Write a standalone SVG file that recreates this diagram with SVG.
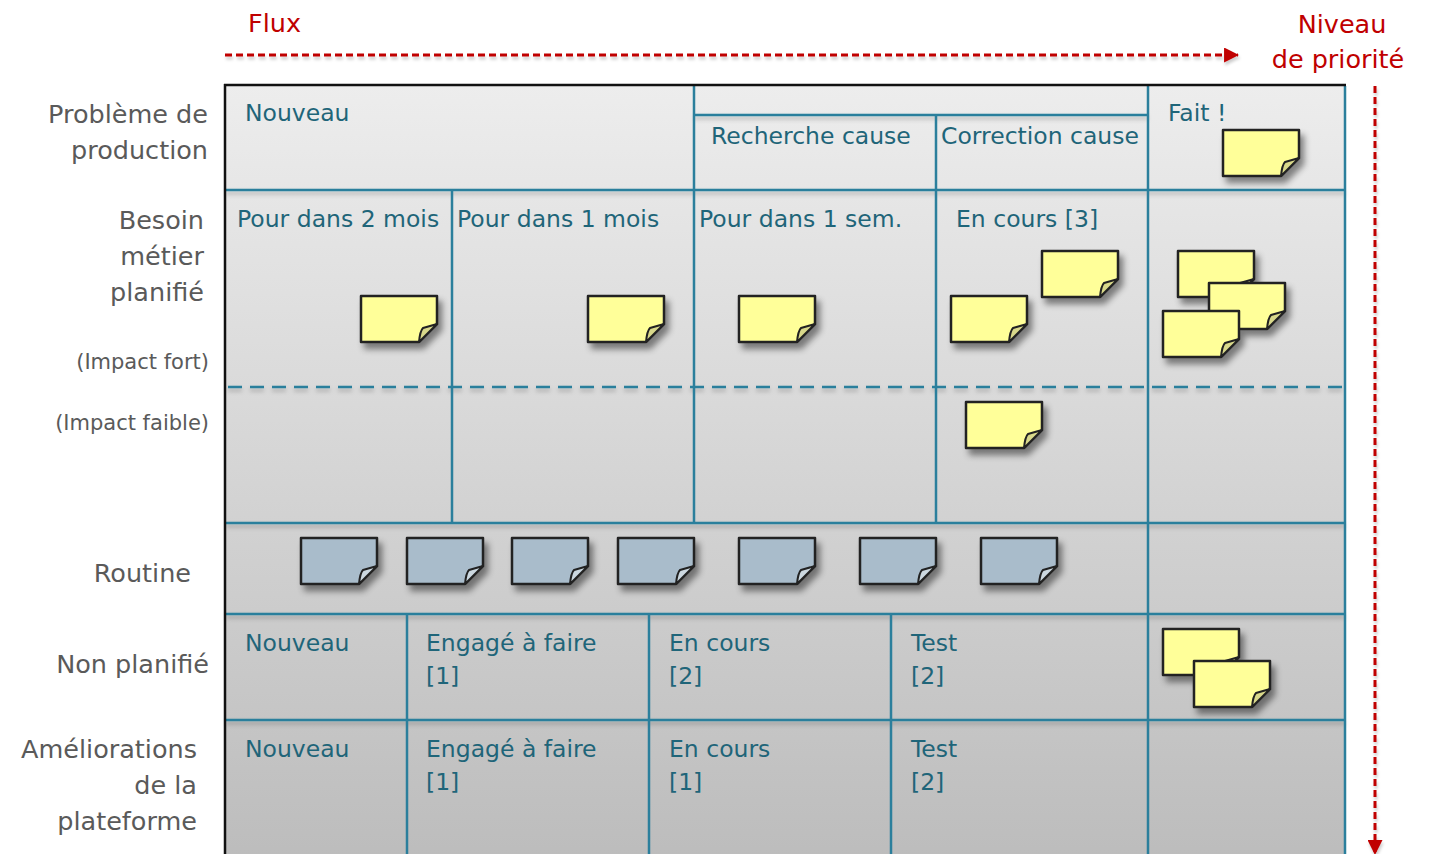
<svg xmlns="http://www.w3.org/2000/svg" width="1430" height="854" viewBox="0 0 1430 854">
<defs>
<style>
.lbl{font-family:"DejaVu Sans",Verdana,sans-serif;font-size:25.5px;fill:#5a5a5a;text-anchor:end}
.sm{font-size:21px}
.col{font-family:"DejaVu Sans",Verdana,sans-serif;font-size:23.5px;fill:#1f6579}
.red{font-family:"DejaVu Sans",Verdana,sans-serif;font-size:25.5px;fill:#c00000}
.ln{stroke:#2b7f9c;stroke-width:2.5;fill:none}
.dash{stroke:#2b7f9c;stroke-width:2.5;fill:none;stroke-dasharray:14 8}
.arr{stroke:#c00000;stroke-width:3;fill:none;stroke-dasharray:7 4}
</style>
<linearGradient id="bg" x1="0" y1="0" x2="0" y2="1">
<stop offset="0" stop-color="#ededed"/>
<stop offset="1" stop-color="#bcbcbc"/>
</linearGradient>
<filter id="sh" x="-20%" y="-20%" width="150%" height="160%">
<feDropShadow dx="4" dy="6" stdDeviation="3" flood-color="#000" flood-opacity="0.45"/>
</filter>
<filter id="lsh" x="-5%" y="-50%" width="110%" height="300%">
<feDropShadow dx="0" dy="3" stdDeviation="2" flood-color="#000" flood-opacity="0.25"/>
</filter>
<filter id="ash" x="-5%" y="-5%" width="110%" height="110%">
<feDropShadow dx="1" dy="3" stdDeviation="1.5" flood-color="#000" flood-opacity="0.2"/>
</filter>
<marker id="ah" markerWidth="15" markerHeight="15" refX="13" refY="7" orient="auto" markerUnits="userSpaceOnUse" viewBox="0 0 14 14">
<path d="M0,0 L14,7 L0,14 Z" fill="#c00000"/>
</marker>
<g id="noteY">
<polygon points="0,0 76,0 76,28 58,46 0,46" fill="#ffff99" stroke="#222" stroke-width="2.5" stroke-linejoin="round"/>
<path d="M58,46 Q59,35 62,32 L76,28 Z" fill="#d9d98b" stroke="#222" stroke-width="2" stroke-linejoin="round"/>
</g>
<g id="noteB">
<polygon points="0,0 76,0 76,28 58,46 0,46" fill="#a9bccb" stroke="#222" stroke-width="2.5" stroke-linejoin="round"/>
<path d="M58,46 Q59,35 62,32 L76,28 Z" fill="#ccd8e0" stroke="#222" stroke-width="2" stroke-linejoin="round"/>
</g>
</defs>

<rect width="1430" height="854" fill="#ffffff"/>

<g id="board">
<rect x="225" y="85" width="1120" height="780" fill="url(#bg)"/>
<g id="grid" filter="url(#lsh)">
<line class="ln" x1="226" y1="190" x2="1345" y2="190"/>
<line class="ln" x1="226" y1="523" x2="1345" y2="523"/>
<line class="ln" x1="226" y1="614" x2="1345" y2="614"/>
<line class="ln" x1="226" y1="720" x2="1345" y2="720"/>
<line class="ln" x1="694" y1="115" x2="1148" y2="115"/>
<line class="dash" x1="228" y1="387" x2="1345" y2="387"/>
</g>
<g id="vlines">
<line class="ln" x1="694" y1="86" x2="694" y2="523"/>
<line class="ln" x1="1148" y1="86" x2="1148" y2="854"/>
<line class="ln" x1="936" y1="115" x2="936" y2="523"/>
<line class="ln" x1="452" y1="190" x2="452" y2="523"/>
<line class="ln" x1="407" y1="614" x2="407" y2="854"/>
<line class="ln" x1="649" y1="614" x2="649" y2="854"/>
<line class="ln" x1="891" y1="614" x2="891" y2="854"/>
<line class="ln" x1="1345" y1="86" x2="1345" y2="854"/>
</g>
<line x1="224" y1="85" x2="1346" y2="85" stroke="#111" stroke-width="2.5"/>
<line x1="225" y1="84" x2="225" y2="854" stroke="#111" stroke-width="2.5"/>
</g>

<g id="row-labels">
<text class="lbl" x="208" y="123">Problème de</text>
<text class="lbl" x="208" y="159">production</text>
<text class="lbl" x="204" y="229">Besoin</text>
<text class="lbl" x="204" y="265">métier</text>
<text class="lbl" x="204" y="301">planifié</text>
<text class="lbl sm" x="209" y="369">(Impact fort)</text>
<text class="lbl sm" x="209" y="430">(Impact faible)</text>
<text class="lbl" x="191" y="582">Routine</text>
<text class="lbl" x="209" y="673">Non planifié</text>
<text class="lbl" x="197" y="758">Améliorations</text>
<text class="lbl" x="197" y="794">de la</text>
<text class="lbl" x="197" y="830">plateforme</text>
</g>

<g id="column-labels">
<text class="col" x="245" y="121">Nouveau</text>
<text class="col" x="711" y="144">Recherche cause</text>
<text class="col" x="941" y="144">Correction cause</text>
<text class="col" x="1168" y="121">Fait !</text>
<text class="col" x="237" y="227">Pour dans 2 mois</text>
<text class="col" x="457" y="227">Pour dans 1 mois</text>
<text class="col" x="699" y="227">Pour dans 1 sem.</text>
<text class="col" x="956" y="227">En cours [3]</text>
<text class="col" x="245" y="651">Nouveau</text>
<text class="col" x="426" y="651">Engagé à faire</text>
<text class="col" x="426" y="684">[1]</text>
<text class="col" x="669" y="651">En cours</text>
<text class="col" x="669" y="684">[2]</text>
<text class="col" x="911" y="651">Test</text>
<text class="col" x="911" y="684">[2]</text>
<text class="col" x="245" y="757">Nouveau</text>
<text class="col" x="426" y="757">Engagé à faire</text>
<text class="col" x="426" y="790">[1]</text>
<text class="col" x="669" y="757">En cours</text>
<text class="col" x="669" y="790">[1]</text>
<text class="col" x="911" y="757">Test</text>
<text class="col" x="911" y="790">[2]</text>
</g>

<g id="notes" filter="url(#sh)">
<use href="#noteY" x="1223" y="130"/>
<use href="#noteY" x="361" y="296"/>
<use href="#noteY" x="588" y="296"/>
<use href="#noteY" x="739" y="296"/>
<use href="#noteY" x="951" y="296"/>
<use href="#noteY" x="1042" y="251"/>
<use href="#noteY" x="1178" y="251"/>
<use href="#noteY" x="1209" y="283"/>
<use href="#noteY" x="1163" y="311"/>
<use href="#noteY" x="966" y="402"/>
<use href="#noteY" x="1163" y="629"/>
<use href="#noteY" x="1194" y="661"/>
<use href="#noteB" x="301" y="538"/>
<use href="#noteB" x="407" y="538"/>
<use href="#noteB" x="512" y="538"/>
<use href="#noteB" x="618" y="538"/>
<use href="#noteB" x="739" y="538"/>
<use href="#noteB" x="860" y="538"/>
<use href="#noteB" x="981" y="538"/>
</g>

<g id="axes">
<text class="red" x="248" y="32">Flux</text>
<text class="red" x="1342" y="33" text-anchor="middle">Niveau</text>
<text class="red" x="1338" y="68" text-anchor="middle">de priorité</text>
<g id="connectors" filter="url(#ash)">
<line class="arr" x1="225" y1="55" x2="1238" y2="55" marker-end="url(#ah)"/>
<line class="arr" x1="1375" y1="86" x2="1375" y2="854" marker-end="url(#ah)"/>
</g>
</g>
</svg>
